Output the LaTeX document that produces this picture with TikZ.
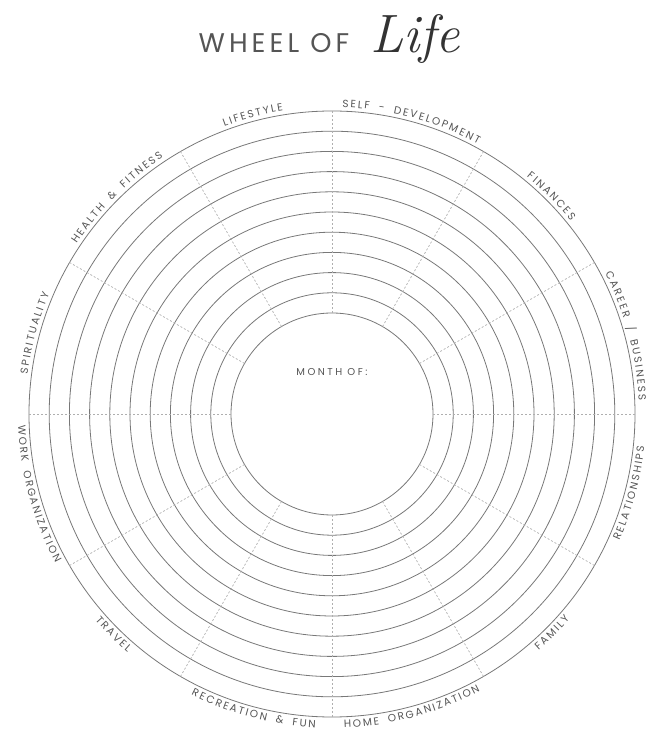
\documentclass[tikz,border=0pt]{standalone}
\usepackage{fontspec}
\setsansfont{Poppins}
\newfontfamily\labelfont[LetterSpace=25]{Poppins}
\newfontfamily\titlefont[LetterSpace=15]{Poppins}
\usetikzlibrary{decorations.text, positioning}
\definecolor{ringgray}{RGB}{120,120,120}
\definecolor{spokegray}{RGB}{175,175,175}
\definecolor{labelgray}{RGB}{85,85,85}

\begin{document}
\begin{tikzpicture}[
    x=1pt, y=1pt,
    ring/.style={draw=ringgray, line width=0.8pt},
    spoke/.style={draw=spokegray, line width=0.7pt, dash pattern=on 2pt off 2pt},
    toplabel/.style={decorate, decoration={text along path, text align=center,
                     text color=labelgray,
                     text={|\labelfont\fontsize{10.5}{12}\selectfont\kern1.9pt|#1}}},
    botlabel/.style={toplabel=#1},
]
  \useasboundingbox (-332,-324) rectangle (322,414);
  \coordinate (hub) at (0,0);

  % rings and spokes
  \foreach \i in {0,...,10}
    \draw[ring] (hub) circle ({101+20.2*\i});
  \foreach \a in {0,30,...,330}
    \draw[spoke] (\a:101) -- (\a:303);

  % title
  \node[font=\titlefont\fontsize{27}{30}\selectfont, text=labelgray, anchor=base] (wheel) at (-58,361) {WHEEL OF};
  \node[font=\rmfamily\itshape\fontsize{54}{60}\selectfont, text=black!80, anchor=base west] (life) at ([xshift=14pt]wheel.base east) {Life};

  \node[font=\labelfont\fontsize{10}{12}\selectfont, text=labelgray] (month) at (0,42) {MONTH OF:};

  % upper labels, read clockwise
  \path[toplabel={LIFESTYLE}]          (135:307) arc (135:75:307);
  \path[toplabel={SELF - DEVELOPMENT}] (105:307) arc (105:45:307);
  \path[toplabel={FINANCES}]           (75:307)  arc (75:15:307);
  \path[toplabel={CAREER / BUSINESS}]  (45:307)  arc (45:-15:307);
  \path[toplabel={HEALTH {\&} FITNESS}] (165:307) arc (165:105:307);
  \path[toplabel={SPIRITUALITY}]       (195:307) arc (195:135:307);

  % lower labels, read anticlockwise
  \path[botlabel={RELATIONSHIPS}]      (-45:314)  arc (-45:15:314);
  \path[botlabel={FAMILY}]             (-75:314)  arc (-75:-15:314);
  \path[botlabel={HOME ORGANIZATION}]  (-105:314) arc (-105:-45:314);
  \path[botlabel={RECREATION {\&} FUN}] (-135:314) arc (-135:-75:314);
  \path[botlabel={TRAVEL}]             (-165:314) arc (-165:-105:314);
  \path[botlabel={WORK ORGANIZATION}]  (-195:314) arc (-195:-135:314);
\end{tikzpicture}
\end{document}
